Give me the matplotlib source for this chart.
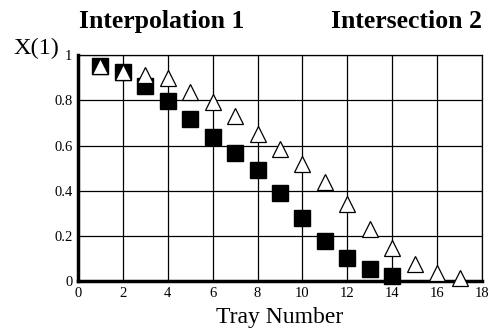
import numpy as np
from matplotlib import pyplot as plt

# data
trays_sq = [1, 2, 3, 4, 5, 6, 7, 8, 9, 10, 11, 12, 13, 14]
x_sq = [0.951, 0.925, 0.862, 0.796, 0.717, 0.638, 0.569, 0.491, 0.392, 0.277, 0.177, 0.103, 0.052, 0.022]
trays_tri = [1, 2, 3, 4, 5, 6, 7, 8, 9, 10, 11, 12, 13, 14, 15, 16, 17]
x_tri = [0.951, 0.925, 0.914, 0.901, 0.838, 0.794, 0.730, 0.653, 0.584, 0.518, 0.440, 0.341, 0.230, 0.147, 0.074, 0.037, 0.015]

xticks = [0, 2, 4, 6, 8, 10, 12, 14, 16, 18]
yticks = [0, 0.2, 0.4, 0.6, 0.8, 1]
ylabels = ['0', '0.2', '0.4', '0.6', '0.8', '1']

plt.rcParams['font.family'] = ['Liberation Serif', 'DejaVu Serif']

fig = plt.figure(figsize=(4.9, 3.32), dpi=100)
ax = fig.add_axes([0.159, 0.1536, 0.825, 0.680])

ax.set_xlim(0, 18)
ax.set_ylim(0, 1)
ax.set_xticks(xticks)
ax.set_xticklabels([str(t) for t in xticks], fontsize=10.5)
ax.set_yticks(yticks)
ax.set_yticklabels(ylabels, fontsize=10.5)
ax.tick_params(length=0, pad=4)
ax.grid(True, color='black', linewidth=0.9)
ax.set_axisbelow(True)

for side in ['top', 'right']:
    ax.spines[side].set_linewidth(0.9)
for side in ['left', 'bottom']:
    ax.spines[side].set_linewidth(2.5)

ax.plot(trays_sq, x_sq, linestyle='none', marker='s', markersize=11,
        markerfacecolor='black', markeredgecolor='black', zorder=3, clip_on=False)
ax.plot(trays_tri, x_tri, linestyle='none', marker='^', markersize=11,
        markerfacecolor='white', markeredgecolor='black', markeredgewidth=0.9,
        zorder=4, clip_on=False)

ax.set_xlabel('Tray Number', fontsize=17, labelpad=5)
fig.text(0.028, 0.822, 'X(1)', fontsize=17.5, ha='left', va='bottom')
fig.text(0.329, 0.900, 'Interpolation 1', fontsize=18.5, fontweight='bold', ha='center', va='bottom')
fig.text(0.829, 0.900, 'Intersection 2', fontsize=18.5, fontweight='bold', ha='center', va='bottom')

fig.savefig('out.png', dpi=100)
